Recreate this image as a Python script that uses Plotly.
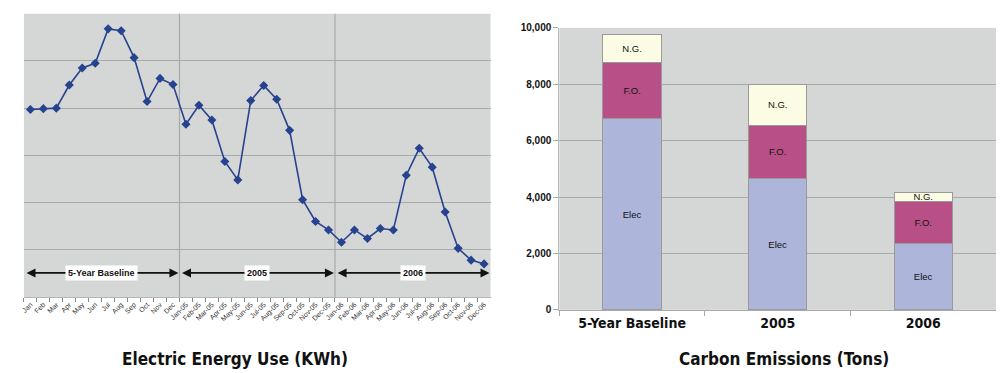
import plotly.graph_objects as go

# ---- Electric energy use (monthly, KWh) ----
months = ["Jan", "Feb", "Mar", "Apr", "May", "Jun", "Jul", "Aug", "Sep", "Oct", "Nov", "Dec",
          "Jan-05", "Feb-05", "Mar-05", "Apr-05", "May-05", "Jun-05", "Jul-05", "Aug-05",
          "Sep-05", "Oct-05", "Nov-05", "Dec-05",
          "Jan-06", "Feb-06", "Mar-06", "Apr-06", "May-06", "Jun-06", "Jul-06", "Aug-06",
          "Sep-06", "Oct-06", "Nov-06", "Dec-06"]
kwh = [198500, 199500, 200000, 224500, 242500, 247500, 284000, 282000, 253500, 207000, 231500, 225000,
       183000, 203000, 187500, 143500, 124000, 208000, 224000, 209500, 176500, 103000, 80000, 71000,
       58000, 71000, 62000, 72500, 71000, 129000, 157500, 137500, 90000, 51500, 39000, 35000]
periods = ["5-Year Baseline", "2005", "2006"]
months_per_period = 12

# ---- Carbon emissions by source (tons) ----
categories = ["5-Year Baseline", "2005", "2006"]
elec = [6800, 4650, 2370]
fuel_oil = [1960, 1900, 1470]
nat_gas = [1000, 1450, 330]

LABEL_FONT = "Liberation Sans, Arial, sans-serif"
TITLE_FONT = "Liberation Sans Narrow, DejaVu Sans Condensed, Arial Narrow, sans-serif"
PLOT_BG = "#d5d7d7"
GRID = "#a9aaaa"

fig = go.Figure()

fig.add_trace(go.Scatter(
    x=months, y=kwh, mode="lines+markers",
    line=dict(color="#27428f", width=1.6),
    marker=dict(symbol="diamond", size=7, color="#27428f"),
    xaxis="x", yaxis="y", showlegend=False, hoverinfo="x+y",
))

seg_styles = [("Elec", elec, "#adb5db"), ("F.O.", fuel_oil, "#b84f87"), ("N.G.", nat_gas, "#fcfbe3")]
for name, vals, color in seg_styles:
    fig.add_trace(go.Bar(
        x=categories, y=vals, name=name,
        marker=dict(color=color, line=dict(color="#9a9a9a", width=1)),
        text=[name] * len(vals), textposition="inside", insidetextanchor="middle",
        textangle=0, textfont=dict(family=LABEL_FONT, size=9.5, color="#111111"),
        width=0.4, xaxis="x2", yaxis="y2", showlegend=False,
    ))

# vertical separators between the periods on the monthly chart
for i in range(1, len(periods)):
    xb = i * months_per_period - 0.5
    fig.add_shape(type="line", xref="x", yref="paper", x0=xb, x1=xb,
                  y0=0.1957, y1=0.9759, line=dict(color=GRID, width=1.2), layer="below")

# double-headed period arrows with labels
arrow_y = 25500
for i, p in enumerate(periods):
    x0 = i * months_per_period - 0.5 + 0.08
    x1 = (i + 1) * months_per_period - 0.5 - 0.08
    fig.add_annotation(x=x1, y=arrow_y, ax=x0, ay=arrow_y, xref="x", yref="y",
                       axref="x", ayref="y", text="", showarrow=True,
                       arrowhead=2, startarrowhead=2, arrowside="end+start",
                       arrowsize=1, startarrowsize=1, arrowwidth=1.8, arrowcolor="#111111")
    fig.add_annotation(x=(x0 + x1) / 2, y=arrow_y, xref="x", yref="y", showarrow=False,
                       text="<b>%s</b>" % p, bgcolor="white", borderpad=2,
                       font=dict(family=LABEL_FONT, size=9, color="#111111"))

# chart titles (vertical position given in pixels from the top, converted below)
fig.add_annotation(x=0.233, y=364, xref="paper", yref="paper", showarrow=False,
                   xanchor="center", yanchor="middle",
                   text="<b>Electric Energy Use (KWh)</b>",
                   font=dict(family=TITLE_FONT, size=17, color="#111111"))
fig.add_annotation(x=0.783, y=364, xref="paper", yref="paper", showarrow=False,
                   xanchor="center", yanchor="middle",
                   text="<b>Carbon Emissions (Tons)</b>",
                   font=dict(family=TITLE_FONT, size=17, color="#111111"))
for a in fig.layout.annotations:
    if a.xref == "paper":
        a.y = (373 - a.y) / 373

fig.update_layout(
    width=1000, height=373, margin=dict(l=0, r=0, t=0, b=0),
    paper_bgcolor="white", plot_bgcolor=PLOT_BG,
    barmode="stack",
    font=dict(family=LABEL_FONT, color="#111111"),
    uniformtext=dict(minsize=9, mode="show"),
    xaxis=dict(domain=[0.021, 0.489], anchor="y", type="category",
               range=[-0.5, len(months) - 0.5],
               tickangle=-45, tickfont=dict(size=7, color="#333333"),
               ticks="outside", tickson="boundaries", ticklen=4, tickcolor="#888888",
               showgrid=False, showline=True, linecolor="#b5b5b5", zeroline=False),
    yaxis=dict(domain=[0.1957, 0.9759], anchor="x", range=[0, 300000], dtick=50000,
               showticklabels=False, showgrid=True, gridcolor=GRID, gridwidth=1.2,
               zeroline=False, showline=False, ticks=""),
    xaxis2=dict(domain=[0.558, 0.996], anchor="y2", type="category",
                tickfont=dict(family=TITLE_FONT, size=14, color="#111111", weight="bold"),
                ticks="outside", tickson="boundaries", ticklen=5, tickcolor="#aaaaaa",
                showgrid=False, showline=True, linecolor="#aaaaaa"),
    yaxis2=dict(domain=[0.160, 0.9370], anchor="x2", range=[0, 10000], dtick=2000,
                tickformat=",", tickfont=dict(family=LABEL_FONT, size=10, color="#111111",
                                              weight="bold"),
                showgrid=True, gridcolor=GRID, gridwidth=1.2, zeroline=False,
                ticks="outside", ticklen=5, tickcolor="#aaaaaa",
                showline=True, linecolor="#bbbbbb"),
)

fig.write_html("out.html")
